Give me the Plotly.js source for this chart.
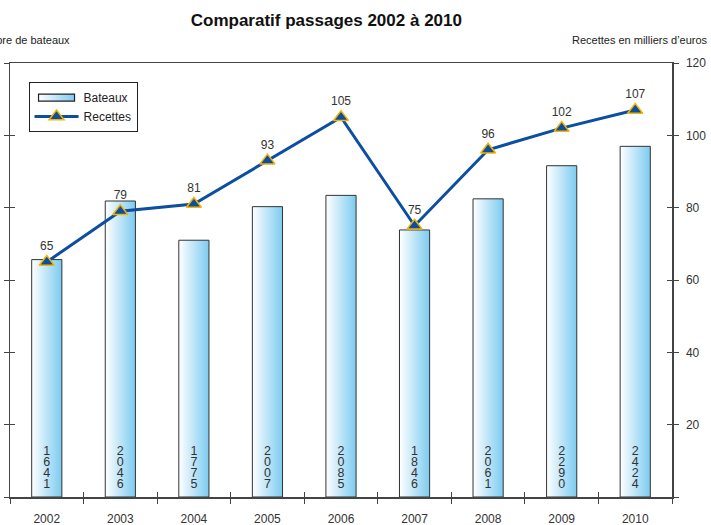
<!DOCTYPE html>
<html><head><meta charset="utf-8">
<script src="https://cdn.plot.ly/plotly-3.0.1.min.js"></script>
<style>body{margin:0;background:#fff}#chart{width:711px;height:525px}</style>
</head><body><div id="chart"></div>
<script>
const years = ['2002','2003','2004','2005','2006','2007','2008','2009','2010'];
const bateaux = [1641, 2046, 1775, 2007, 2085, 1846, 2061, 2290, 2424];
const recettes = [65, 79, 81, 93, 105, 75, 96, 102, 107];
const leftTicks = [0, 500, 1000, 1500, 2000, 2500, 3000];
const rightTicks = [0, 20, 40, 60, 80, 100, 120];
const rightLabels = ['', '20', '40', '60', '80', '100', '120'];
const boundaryTicks = [-0.5, 0.5, 1.5, 2.5, 3.5, 4.5, 5.5, 6.5, 7.5, 8.5];

const font = {family: 'Liberation Sans, Arial, sans-serif', size: 12, color: '#333'};
const axisCol = '#444';

const traces = [
  {type: 'bar', name: 'Bateaux', x: years, y: bateaux,
   text: bateaux.map(v => String(v).split('').join('<br>')),
   textposition: 'inside', insidetextanchor: 'start', textangle: 0,
   textfont: {family: font.family, size: 12.5, color: '#333'},
   marker: {color: '#9fd8f4', line: {color: '#333', width: 1}},
   width: 0.41, hoverinfo: 'none'},
  {type: 'scatter', mode: 'lines+markers+text', name: 'Recettes', x: years, y: recettes,
   yaxis: 'y2', text: recettes.map(String), textposition: 'top center',
   textfont: {family: font.family, size: 12, color: '#333'},
   line: {color: '#0b4ea2', width: 3},
   marker: {symbol: 'triangle-up', size: 13, color: '#0b4ea2', line: {color: '#f6b400', width: 1.5}},
   hoverinfo: 'none', cliponaxis: false}
];

const layout = {
  width: 711, height: 525,
  margin: {l: 10, r: 39, t: 63, b: 28},
  paper_bgcolor: '#fff', plot_bgcolor: '#fff',
  font: font,
  showlegend: true,
  title: {text: '<b>Comparatif passages 2002 à 2010</b>', font: {family: font.family, size: 17, color: '#111'},
          xref: 'container', x: 0.459, xanchor: 'center', yref: 'container', y: 0.962, yanchor: 'middle'},
  legend: {x: 0.028, y: 0.956, xanchor: 'left', yanchor: 'top', bgcolor: '#fff', bordercolor: '#222', borderwidth: 1,
           font: {family: font.family, size: 12, color: '#222'}, tracegroupgap: 2, itemwidth: 44},
  xaxis: {type: 'category', range: [-0.5, 8.5], tickson: 'boundaries', ticks: 'outside', ticklen: 5, tickwidth: 1,
          tickcolor: axisCol, showline: true, linecolor: axisCol, linewidth: 1.5, showgrid: false, zeroline: false,
          ticklabelstandoff: 10, tickfont: font, mirror: false},
  xaxis2: {overlaying: 'x', type: 'linear', range: [-0.5, 8.5], tickvals: boundaryTicks, ticks: 'inside', ticklen: 5,
           tickcolor: axisCol, showticklabels: false, showline: false, showgrid: false, zeroline: false, side: 'bottom'},
  xaxis3: {overlaying: 'x', type: 'linear', range: [-0.5, 8.5], side: 'top', showline: true, linecolor: axisCol, linewidth: 1.5,
           ticks: '', showticklabels: false, showgrid: false, zeroline: false},
  yaxis: {range: [0, 3000], tickvals: leftTicks, ticks: 'outside', ticklen: 5, tickcolor: axisCol, showticklabels: false,
          showline: true, linecolor: axisCol, linewidth: 1.5, showgrid: false, zeroline: false},
  yaxis3: {overlaying: 'y', range: [0, 3000], tickvals: leftTicks, ticks: 'inside', ticklen: 5, tickcolor: axisCol,
           showticklabels: false, showline: false, showgrid: false, zeroline: false},
  yaxis2: {overlaying: 'y', side: 'right', range: [0, 120], tickvals: rightTicks, ticktext: rightLabels,
           ticks: 'outside', ticklen: 5, tickcolor: axisCol, showline: true, linecolor: axisCol, linewidth: 1.5,
           showgrid: false, zeroline: false, tickfont: font, ticklabelstandoff: 5},
  yaxis4: {overlaying: 'y', side: 'right', range: [0, 120], tickvals: rightTicks, ticks: 'inside', ticklen: 5,
           tickcolor: axisCol, showticklabels: false, showline: false, showgrid: false, zeroline: false},
  annotations: [
    {text: 'Nombre de bateaux', xref: 'paper', yref: 'paper', x: (72 - 10) / 662, y: 1 + 23 / 434,
     xanchor: 'right', yanchor: 'middle', showarrow: false, font: {family: font.family, size: 11, color: '#222'}},
    {text: 'Recettes en milliers d’euros', xref: 'paper', yref: 'paper', x: (710 - 10) / 662, y: 1 + 23 / 434,
     xanchor: 'right', yanchor: 'middle', showarrow: false, font: {family: font.family, size: 11, color: '#222'}}
  ]
};

// invisible helper traces that activate the overlay axes used for crossing ticks
traces.push({type: 'scatter', x: [0], y: [0], xaxis: 'x2', yaxis: 'y3', mode: 'markers', marker: {opacity: 0}, showlegend: false, hoverinfo: 'none'});
traces.push({type: 'scatter', x: [0], y: [0], xaxis: 'x3', yaxis: 'y4', mode: 'markers', marker: {opacity: 0}, showlegend: false, hoverinfo: 'none'});

Plotly.newPlot('chart', traces, layout, {staticPlot: true}).then(gd => {
  const svg = gd.querySelector('.main-svg');
  const ns = 'http://www.w3.org/2000/svg';
  let defs = svg.querySelector('defs');
  if (!defs) { defs = document.createElementNS(ns, 'defs'); svg.insertBefore(defs, svg.firstChild); }
  const grad = document.createElementNS(ns, 'linearGradient');
  grad.setAttribute('id', 'barGrad');
  grad.setAttribute('x1', '0'); grad.setAttribute('y1', '0');
  grad.setAttribute('x2', '1'); grad.setAttribute('y2', '0');
  [['0%', '#ffffff'], ['100%', '#7ccbf0']].forEach(([o, c]) => {
    const s = document.createElementNS(ns, 'stop');
    s.setAttribute('offset', o); s.setAttribute('stop-color', c);
    grad.appendChild(s);
  });
  defs.appendChild(grad);
  gd.querySelectorAll('.barlayer .point path').forEach(p => { p.style.fill = 'url(#barGrad)'; });
  gd.querySelectorAll('.legend .traces').forEach(g => {
    if (g.textContent.indexOf('Bateaux') === -1) return;
    g.querySelectorAll('.legendpoints path').forEach(p => {
      p.setAttribute('d', 'M18,3.5H-18V-3.5H18Z');
      p.style.fill = 'url(#barGrad)';
      p.style.stroke = '#222'; p.style.strokeWidth = '1.2px';
    });
  });
  // tighten stacked digit spacing inside bars
  gd.querySelectorAll('.barlayer text').forEach(t => {
    const before = t.getBBox();
    const oldBottom = before.y + before.height;
    t.querySelectorAll('tspan.line').forEach((ts, i) => { if (i > 0) ts.setAttribute('dy', (i * 0.88).toFixed(2) + 'em'); });
    const after = t.getBBox();
    const newBottom = after.y + after.height;
    const delta = oldBottom - newBottom - 3;
    const tr = t.getAttribute('transform') || '';
    t.setAttribute('transform', tr + ' translate(0,' + delta + ')');
  });
});
</script></body></html>
